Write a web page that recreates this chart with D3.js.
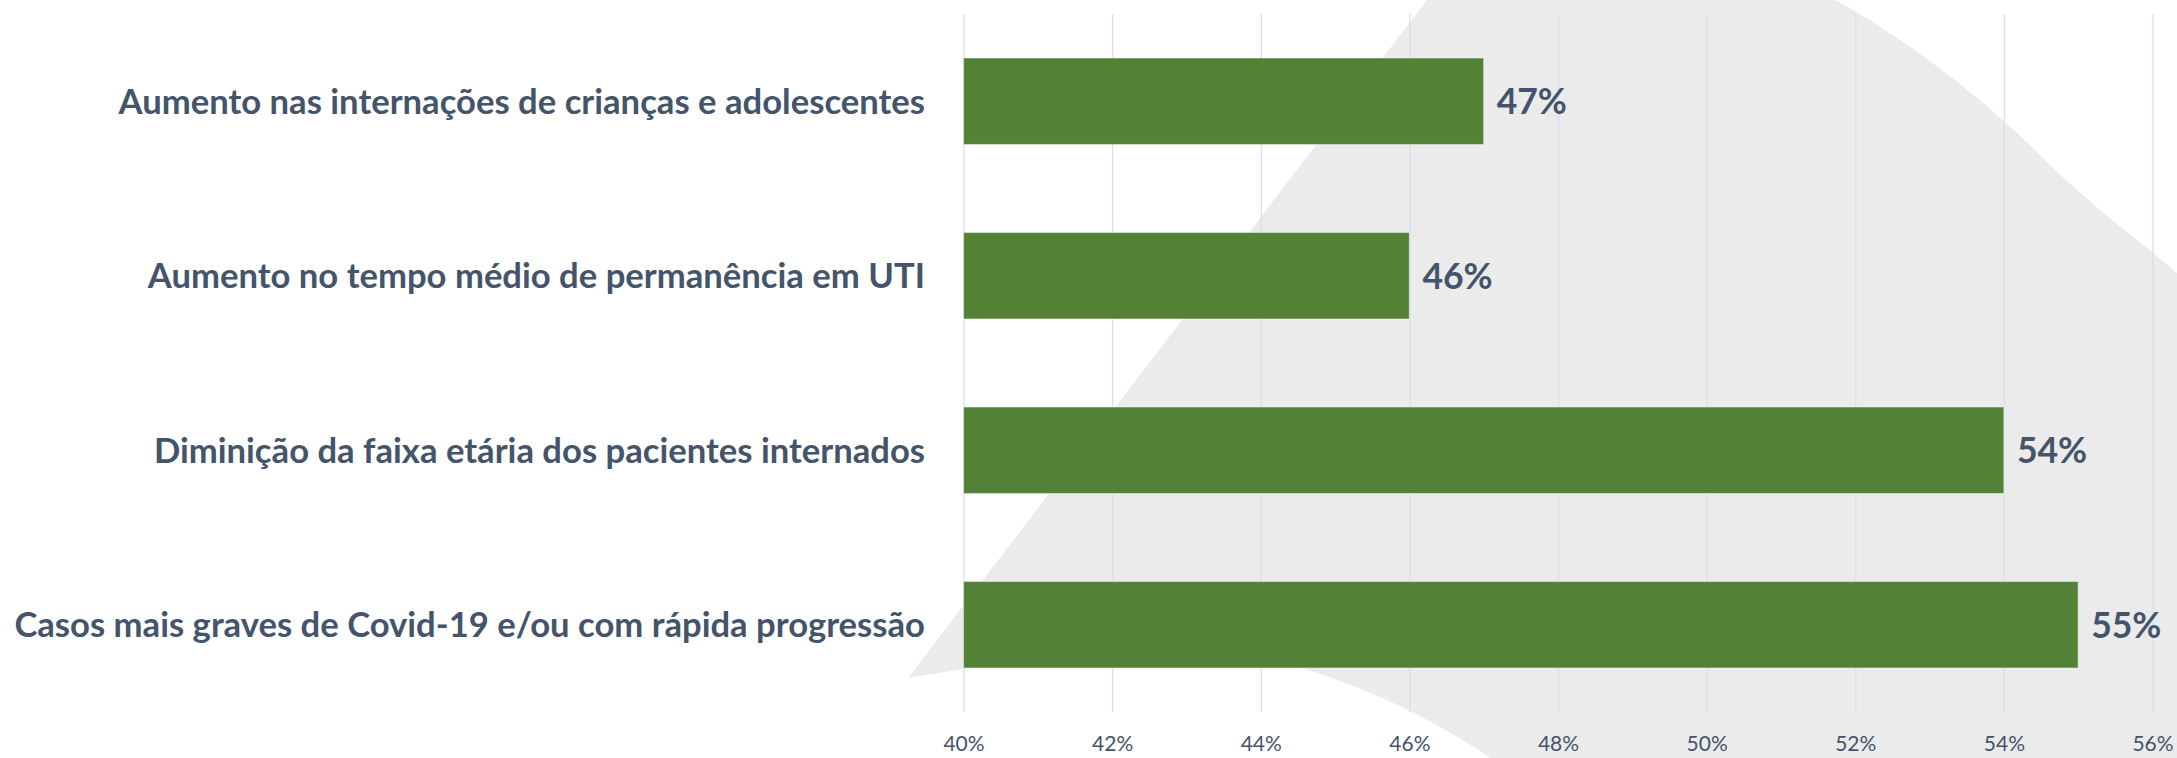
<!DOCTYPE html>
<html>
<head>
<meta charset="utf-8">
<script src="https://cdn.jsdelivr.net/npm/d3@7"></script>
<style>
  html, body { margin: 0; padding: 0; background: #ffffff; }
  svg { display: block; }
</style>
</head>
<body>
<svg id="chart"></svg>
<script>
// ---- data ----
const categories = [
  "Aumento nas internações de crianças e adolescentes",
  "Aumento no tempo médio de permanência em UTI",
  "Diminição da faixa etária dos pacientes internados",
  "Casos mais graves de Covid-19 e/ou com rápida progressão"
];
const values = [0.47, 0.46, 0.54, 0.55];
const tickValues = [0.40, 0.42, 0.44, 0.46, 0.48, 0.50, 0.52, 0.54, 0.56];
const xDomain = [0.40, 0.56];

// ---- layout ----
const W = 2177, H = 758;
const plot = { left: 963.5, right: 2152.5, top: 14, bottom: 712 };
const labelRight = 925;
const textColor = "#44546A";
const barColor = "#538135";
const gridColor = "#d9dfe9";
const shapeColor = "#ebebeb";

const svg = d3.select("#chart").attr("width", W).attr("height", H);

// decorative background shape
svg.append("path")
  .attr("d", "M908,678 L1427,0 L1835,0 C1900,35 1980,95 2040,155 S2140,240 2177,273 L2177,758 L1490,758 C1430,715 1330,670 1250,655 C1150,640 1050,655 908,678 Z")
  .attr("fill", shapeColor);

const x = d3.scaleLinear().domain(xDomain).range([plot.left, plot.right]);
const y = d3.scaleBand().domain(categories).range([plot.top, plot.bottom])
  .paddingInner(0.504).paddingOuter(0.252);

// gridlines
const grid = svg.append("g")
  .attr("transform", `translate(0,${plot.bottom})`)
  .call(d3.axisBottom(x).tickValues(tickValues).tickSize(-(plot.bottom - plot.top)).tickFormat(""));
grid.select(".domain").remove();
grid.selectAll(".tick line").attr("stroke", gridColor).attr("stroke-width", 1.3);

// tick labels
const axis = svg.append("g")
  .attr("transform", `translate(0,${plot.bottom})`)
  .call(d3.axisBottom(x).tickValues(tickValues).tickSize(0).tickPadding(24).tickFormat(d3.format(".0%")));
axis.select(".domain").remove();
axis.selectAll("text")
  .attr("fill", textColor)
  .attr("font-family", "Lato, 'Open Sans', sans-serif")
  .attr("font-size", 21);

// bars
const data = categories.map((c, i) => ({ c, v: values[i] }));
svg.append("g").selectAll("rect").data(data).join("rect")
  .attr("x", x(xDomain[0]))
  .attr("y", d => y(d.c))
  .attr("width", d => x(d.v) - x(xDomain[0]))
  .attr("height", y.bandwidth())
  .attr("fill", barColor)
  .attr("stroke", "#ffffff").attr("stroke-opacity", 0.45).attr("stroke-width", 1.2);

// value labels
svg.append("g").selectAll("text").data(data).join("text")
  .attr("x", d => x(d.v) + 13)
  .attr("y", d => y(d.c) + y.bandwidth() / 2)
  .attr("dy", "0.36em")
  .attr("fill", textColor)
  .attr("font-family", "Lato, 'Open Sans', sans-serif")
  .attr("font-weight", "bold")
  .attr("font-size", 35.5)
  .text(d => d3.format(".0%")(d.v));

// category labels
const baseSize = 33;
const labels = svg.append("g").selectAll("text").data(categories).join("text")
  .attr("x", labelRight)
  .attr("y", d => y(d) + y.bandwidth() / 2)
  .attr("dy", "0.36em")
  .attr("text-anchor", "end")
  .attr("fill", textColor)
  .attr("font-family", "Lato, 'Open Sans', sans-serif")
  .attr("font-weight", "bold")
  .attr("font-size", baseSize)
  .text(d => d);

// size labels so the longest one spans the same width as in the original
const targetLongest = 911;
let longest = 0;
labels.each(function () { longest = Math.max(longest, this.getComputedTextLength()); });
labels.attr("font-size", baseSize * targetLongest / longest);
</script>
</body>
</html>
